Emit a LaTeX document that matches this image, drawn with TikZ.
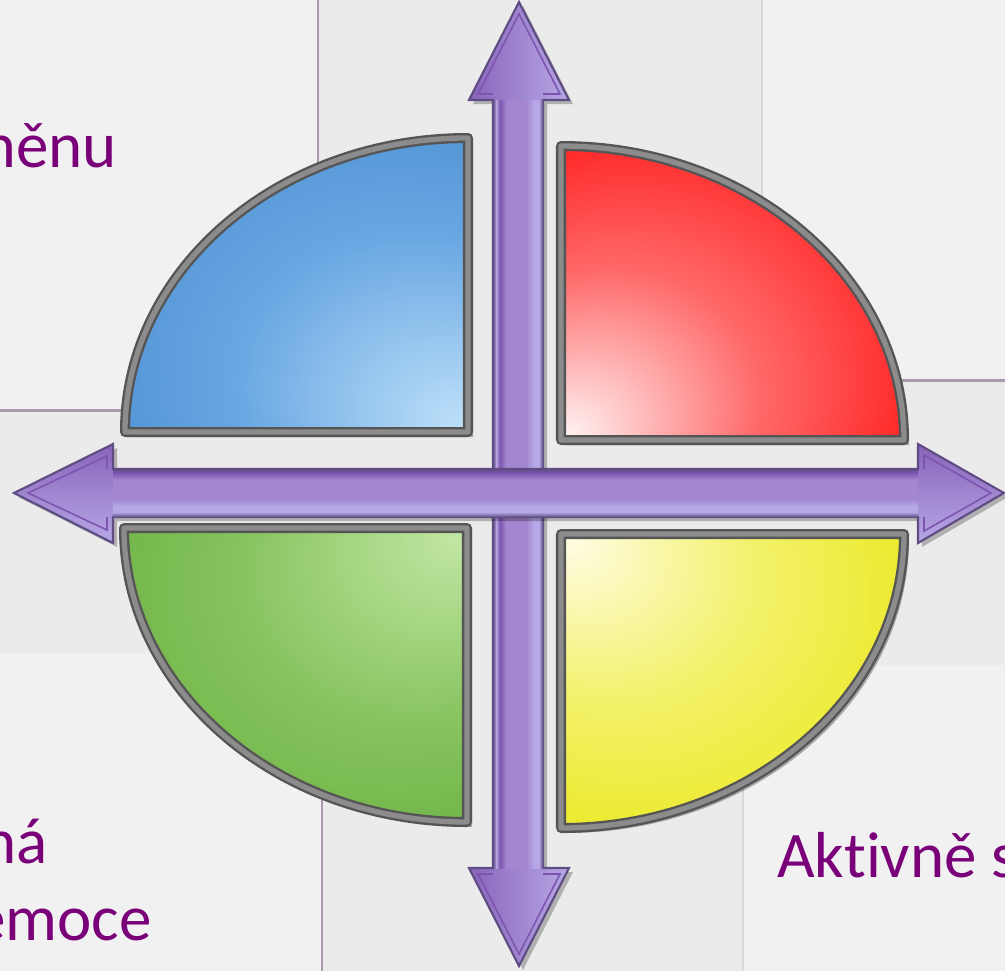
\documentclass[tikz,border=0pt]{standalone}
\usepackage{fontspec}
\setmainfont{Carlito}[Ligatures=NoCommon]
\usepackage{xcolor}
\usetikzlibrary{shadows}
\definecolor{textpurple}{RGB}{122,0,122}
\definecolor{bgbase}{RGB}{235,235,235}
\definecolor{panelgray}{RGB}{241,241,241}
\definecolor{paneledge}{RGB}{170,154,174}
\definecolor{rimdark}{RGB}{85,85,85}
\definecolor{rimgray}{RGB}{140,140,140}
\definecolor{adark}{RGB}{94,76,130}
\definecolor{aedge}{RGB}{128,112,168}
\definecolor{ahi}{RGB}{185,166,226}
\definecolor{adeep}{RGB}{125,85,176}
\definecolor{amid}{RGB}{163,133,208}
\definecolor{apale}{RGB}{182,168,230}
\definecolor{blueD}{RGB}{70,138,206}
\definecolor{blueM}{RGB}{104,166,226}
\definecolor{blueL}{RGB}{192,226,250}
\definecolor{redD}{RGB}{255,22,22}
\definecolor{redM}{RGB}{255,105,105}
\definecolor{redL}{RGB}{255,246,246}
\definecolor{greenD}{RGB}{98,172,58}
\definecolor{greenM}{RGB}{136,196,96}
\definecolor{greenL}{RGB}{196,232,166}
\definecolor{yellowD}{RGB}{232,232,22}
\definecolor{yellowM}{RGB}{243,241,105}
\definecolor{yellowL}{RGB}{255,253,232}
% quadrant fills, centred on the inner corner
\pgfdeclareradialshading{bluequad}{\pgfpoint{25bp}{-25bp}}{color(0bp)=(blueL); color(26bp)=(blueM); color(50bp)=(blueD); color(80bp)=(blueD)}
\pgfdeclareradialshading{redquad}{\pgfpoint{-25bp}{-25bp}}{color(0bp)=(redL); color(22bp)=(redM); color(44bp)=(redD); color(80bp)=(redD)}
\pgfdeclareradialshading{greenquad}{\pgfpoint{25bp}{25bp}}{color(0bp)=(greenL); color(25bp)=(greenM); color(50bp)=(greenD); color(80bp)=(greenD)}
\pgfdeclareradialshading{yellowquad}{\pgfpoint{-25bp}{25bp}}{color(0bp)=(yellowL); color(22bp)=(yellowM); color(46bp)=(yellowD); color(80bp)=(yellowD)}
% arrow shafts
\pgfdeclarehorizontalshading{vshaft}{100bp}{color(0bp)=(adark); color(25bp)=(adark); color(26.5bp)=(aedge); color(28bp)=(ahi); color(32bp)=(adeep); color(38bp)=(amid); color(58bp)=(amid); color(66bp)=(apale); color(71bp)=(apale); color(75bp)=(adark); color(100bp)=(adark)}
\pgfdeclareverticalshading{hshaft}{100bp}{color(0bp)=(adark); color(25bp)=(adark); color(27bp)=(aedge); color(30bp)=(apale); color(36bp)=(apale); color(44bp)=(amid); color(64bp)=(amid); color(71bp)=(adeep); color(75bp)=(adark); color(100bp)=(adark)}

\begin{document}
\begin{tikzpicture}[
  x=0.02cm, y=-0.02cm,
  panel/.style={fill=panelgray},
  edge/.style={draw=paneledge, line width=1.7pt},
  quad/.style={draw=rimdark, line width=5.7pt, line join=round,
    postaction={draw=rimgray, line width=3pt, line join=round},
    drop shadow={shadow xshift=.1cm, shadow yshift=-.1cm, opacity=.3, fill=black}},
  arrowbody/.style={draw=adark, line width=1.2pt, line join=miter,
    drop shadow={shadow xshift=.08cm, shadow yshift=-.08cm, opacity=.25, fill=black}},
  bevel/.style={draw=adeep, line width=.9pt, line join=miter},
  txt/.style={font=\fontsize{37}{44}\selectfont, text=textpurple, inner sep=0pt}
]
  \useasboundingbox (0,0) rectangle (1005,971);
  \clip (0,0) rectangle (1005,971);
  % background panels
  \fill[bgbase] (0,0) rectangle (1005,971);
  \fill[panel] (0,0) rectangle (318,410);
  \draw[edge] (318,0) -- (318,410) -- (0,410);
  \fill[panel] (762,0) rectangle (1005,380);
  \draw[edge] (762,380) -- (1005,380);
  \draw[white!85!black, line width=.6pt] (762,0) -- (762,380);
  \fill[panel] (0,653) rectangle (322,971);
  \draw[edge] (322,653) -- (322,971);
  \fill[panel] (743,665) rectangle (1005,971);
  \draw[white!85!black, line width=.6pt] (743,665) -- (743,971);

  % labels
  \node[txt, anchor=base east] (change) at (117,167) {měnu};
  \node[txt, anchor=base east] (passive) at (48,863) {ná};
  \node[txt, anchor=base east] (emotion) at (152,940) {emoce};
  \node[txt, anchor=base west] (active) at (777,877) {Aktivně s};

  % quadrants
  \foreach \x/\y/\dx/\a/\b/\shd in {468/432/-343/180/270/bluequad,
      561/440/343/0/-90/redquad, 467/528/-343/180/90/greenquad,
      561/534/343/0/90/yellowquad} {
    \shade[quad, shading=\shd] (\x,\y) -- ++(\dx,0)
      arc[start angle=\a, end angle=\b, x radius=343, y radius=294] -- cycle;
  }

  % vertical arrow
  \shade[arrowbody, left color=adeep!70!amid, right color=apale]
    (519,2) -- (569,100) -- (543,100) -- (543,868) -- (569,868) -- (519,966)
    -- (469,868) -- (493,868) -- (493,100) -- (469,100) -- cycle;
  \shade[shading=vshaft] (493,100) rectangle (543,868);
  \draw[bevel] (493,94) -- (478,94) -- (519,14) -- (560,94) -- (543,94);
  \draw[bevel] (493,874) -- (478,874) -- (519,954) -- (560,874) -- (543,874);

  % horizontal arrow
  \shade[arrowbody, top color=adeep!70!amid, bottom color=apale]
    (14,493) -- (113,444) -- (113,469) -- (918,469) -- (918,444) -- (1004,493)
    -- (918,543) -- (918,517) -- (113,517) -- (113,543) -- cycle;
  \shade[shading=hshaft] (113,469) rectangle (918,517);
  \draw[bevel] (107,469) -- (107,456) -- (28,493) -- (107,530) -- (107,517);
  \draw[bevel] (924,469) -- (924,455) -- (991,493) -- (924,531) -- (924,517);
\end{tikzpicture}
\end{document}
